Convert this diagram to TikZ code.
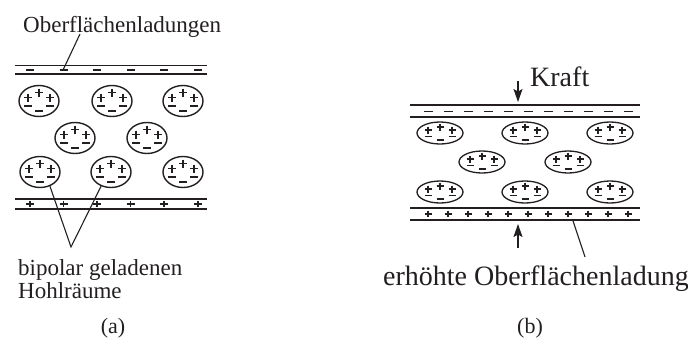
\documentclass[tikz,border=0pt]{standalone}
\usepackage{fontspec}
\setmainfont{Liberation Serif}
\usetikzlibrary{arrows.meta, shapes.geometric, calc}
\definecolor{inkgrey}{RGB}{35,31,32}
\tikzset{
    cavA/.style={ellipse, draw=inkgrey, line width=1.4pt, minimum width=40pt, minimum height=31pt, inner sep=0pt},
    cavB/.style={ellipse, draw=inkgrey, line width=1.3pt, minimum width=46pt, minimum height=22pt, inner sep=0pt},
    sgn/.style={draw=inkgrey, line width=1.9pt},
    thinplate/.style={draw=inkgrey, line width=1pt},
    thickplate/.style={draw=inkgrey, line width=1.9pt},
    leader/.style={draw=inkgrey, line width=1.1pt},
    forcearr/.style={-{Stealth[length=13pt, width=9pt, inset=2.5pt]}, draw=inkgrey, fill=inkgrey, line width=1.3pt},
    lblA/.style={font=\fontsize{23}{23}\selectfont, text=inkgrey, inner sep=0pt},
    lblB/.style={font=\fontsize{28}{28}\selectfont, text=inkgrey, inner sep=0pt},
    sublbl/.style={font=\fontsize{22}{22}\selectfont, text=inkgrey, inner sep=0pt}
}
\begin{document}
\begin{tikzpicture}[x=1pt, y=-1pt]
    \useasboundingbox (0,0) rectangle (688,341);
    % (a) ohne Kraft
    \draw[thinplate] (15,65) -- (207,65);
    \draw[thickplate] (15,74) -- (207,74);
    \foreach \x [count=\i] in {30,63.5,97,130.5,164,198} {
        \draw[sgn] (\x-4,70) -- (\x+4,70);
        \coordinate (mA\i) at (\x,69);
    }
    \draw[thickplate] (15,199) -- (207,199);
    \draw[thickplate] (15,209) -- (207,209);
    \foreach \x in {30,63.5,97,130.5,164,198}
        \draw[sgn] (\x-4,204) -- (\x+4,204) (\x,200.8) -- (\x,207.2);
    \foreach \cx/\cy [count=\i] in {39/101, 112/101, 183/101, 75/138, 147/138, 40/172, 111/172, 183/172} {
        \node[cavA] (ca\i) at (\cx,\cy) {};
        \foreach \sx/\sy in {-11/-3.5, 0/-8.5, 11/-3.5}
            \draw[sgn] (\cx+\sx-4,\cy+\sy) -- (\cx+\sx+4,\cy+\sy) (\cx+\sx,\cy+\sy-4) -- (\cx+\sx,\cy+\sy+4);
        \foreach \sx/\sy in {-11/5, 0/10, 11/5}
            \draw[sgn] (\cx+\sx-4,\cy+\sy) -- (\cx+\sx+4,\cy+\sy);
    }
    \node[lblA, anchor=base west] (oberfl) at (23,32) {Oberflächenladungen};
    \draw[leader] ($(oberfl.base west)+(57,2)$) -- (mA2);
    \coordinate (vtip) at (71,247);
    \draw[leader] (ca6.-55) -- (vtip) -- (ca7.-125);
    \node[lblA, anchor=base west] (bipolar) at (18,275) {bipolar geladenen};
    \node[lblA, anchor=base west] (hohl) at (18,298) {Hohlräume};
    \node[sublbl] (suba) at (113,328) {(a)};

    % (b) mit Kraft
    \draw[thickplate] (410,105) -- (640,105);
    \draw[thinplate, line width=1.4pt] (410,117) -- (640,117);
    \foreach \x in {428,448,...,628}
        \draw[sgn] (\x-4.5,111.5) -- (\x+4.5,111.5);
    \draw[thickplate] (410,208) -- (640,208);
    \draw[thinplate, line width=1.5pt] (410,220) -- (640,220);
    \foreach \x in {428,448,...,628}
        \draw[sgn] (\x-3.5,214) -- (\x+3.5,214) (\x,210.8) -- (\x,217.2);
    \foreach \cx/\cy [count=\i] in {440/133, 525/133, 610/133, 482/162, 568/162, 440/192, 525/192, 610/192} {
        \node[cavB] (cb\i) at (\cx,\cy) {};
        \foreach \sx/\sy in {-12/-3, 0/-6, 12/-3}
            \draw[sgn] (\cx+\sx-3.5,\cy+\sy) -- (\cx+\sx+3.5,\cy+\sy) (\cx+\sx,\cy+\sy-3.5) -- (\cx+\sx,\cy+\sy+3.5);
        \foreach \sx/\sy in {-12/3.5, 0/7, 12/3.5}
            \draw[sgn] (\cx+\sx-3.5,\cy+\sy) -- (\cx+\sx+3.5,\cy+\sy);
    }
    \coordinate (ktop) at (518,81);
    \coordinate (kend) at (518,102);
    \draw[forcearr] (ktop) -- (kend);
    \coordinate (ubot) at (518,248);
    \coordinate (uend) at (518,224);
    \draw[forcearr] (ubot) -- (uend);
    \node[lblB, anchor=base west] (kraft) at (530,86) {Kraft};
    \node[lblB, anchor=base west] (erhoeht) at (383,285) {erhöhte Oberflächenladung};
    \coordinate (lb) at (573,221);
    \draw[leader] (lb) -- ($(erhoeht.base west)+(202,-28)$);
    \node[sublbl] (subb) at (530,328) {(b)};
\end{tikzpicture}
\end{document}
